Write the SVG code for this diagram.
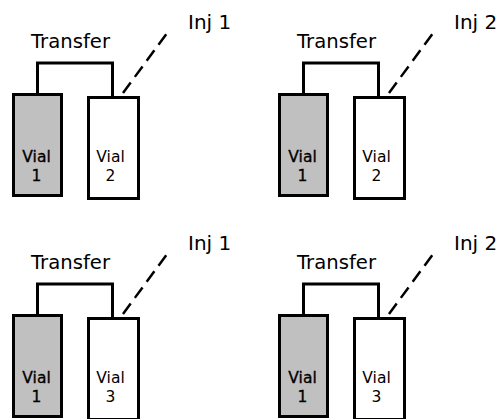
<svg xmlns="http://www.w3.org/2000/svg" width="504" height="419" viewBox="0 0 504 419">
<defs>
<style>
.vial{stroke:#000;stroke-width:3}
.v1{fill:#c0c0c0}
.v2{fill:#fff}
.lbl{font-family:"DejaVu Sans","Liberation Sans",sans-serif;font-size:20px;fill:#000}
.vt{font-family:"DejaVu Sans","Liberation Sans",sans-serif;font-size:15.5px;fill:#000;text-anchor:middle}
.vt1{stroke:#000;stroke-width:0.35}
.tube{fill:none;stroke:#000;stroke-width:3}
.inj{fill:none;stroke:#000;stroke-width:2.5;stroke-dasharray:13 7}
</style>
</defs>
<rect width="504" height="419" fill="#fff"/>

<g id="panel1">
<g id="p1-vial1"><rect class="vial v1" x="13.5" y="94.5" width="48" height="101"/><text class="vt vt1" x="36.5" y="161.5">Vial</text><text class="vt vt1" x="36.5" y="180.5">1</text></g>
<g id="p1-vial2"><rect class="vial v2" x="88.5" y="97.5" width="50" height="101"/><text class="vt" x="110.5" y="161.5">Vial</text><text class="vt" x="110.5" y="180.5">2</text></g>
<g id="p1-connectors"><path class="tube" d="M37.5,94.5 V63 H112.5 V97.5"/><line class="inj" x1="123" y1="93" x2="170" y2="29"/></g>
<g id="p1-labels"><text class="lbl" x="31" y="48" textLength="79" lengthAdjust="spacingAndGlyphs">Transfer</text><text class="lbl" x="188" y="29">Inj 1</text></g>
</g>

<g id="panel2" transform="translate(266,0)">
<g id="p2-vial1"><rect class="vial v1" x="13.5" y="94.5" width="48" height="101"/><text class="vt vt1" x="36.5" y="161.5">Vial</text><text class="vt vt1" x="36.5" y="180.5">1</text></g>
<g id="p2-vial2"><rect class="vial v2" x="88.5" y="97.5" width="50" height="101"/><text class="vt" x="110.5" y="161.5">Vial</text><text class="vt" x="110.5" y="180.5">2</text></g>
<g id="p2-connectors"><path class="tube" d="M37.5,94.5 V63 H112.5 V97.5"/><line class="inj" x1="123" y1="93" x2="170" y2="29"/></g>
<g id="p2-labels"><text class="lbl" x="31" y="48" textLength="79" lengthAdjust="spacingAndGlyphs">Transfer</text><text class="lbl" x="188" y="29">Inj 2</text></g>
</g>

<g id="panel3" transform="translate(0,221)">
<g id="p3-vial1"><rect class="vial v1" x="13.5" y="94.5" width="48" height="101"/><text class="vt vt1" x="36.5" y="161.5">Vial</text><text class="vt vt1" x="36.5" y="180.5">1</text></g>
<g id="p3-vial3"><rect class="vial v2" x="88.5" y="97.5" width="50" height="101"/><text class="vt" x="110.5" y="161.5">Vial</text><text class="vt" x="110.5" y="180.5">3</text></g>
<g id="p3-connectors"><path class="tube" d="M37.5,94.5 V63 H112.5 V97.5"/><line class="inj" x1="123" y1="93" x2="170" y2="29"/></g>
<g id="p3-labels"><text class="lbl" x="31" y="48" textLength="79" lengthAdjust="spacingAndGlyphs">Transfer</text><text class="lbl" x="188" y="29">Inj 1</text></g>
</g>

<g id="panel4" transform="translate(266,221)">
<g id="p4-vial1"><rect class="vial v1" x="13.5" y="94.5" width="48" height="101"/><text class="vt vt1" x="36.5" y="161.5">Vial</text><text class="vt vt1" x="36.5" y="180.5">1</text></g>
<g id="p4-vial3"><rect class="vial v2" x="88.5" y="97.5" width="50" height="101"/><text class="vt" x="110.5" y="161.5">Vial</text><text class="vt" x="110.5" y="180.5">3</text></g>
<g id="p4-connectors"><path class="tube" d="M37.5,94.5 V63 H112.5 V97.5"/><line class="inj" x1="123" y1="93" x2="170" y2="29"/></g>
<g id="p4-labels"><text class="lbl" x="31" y="48" textLength="79" lengthAdjust="spacingAndGlyphs">Transfer</text><text class="lbl" x="188" y="29">Inj 2</text></g>
</g>
</svg>
